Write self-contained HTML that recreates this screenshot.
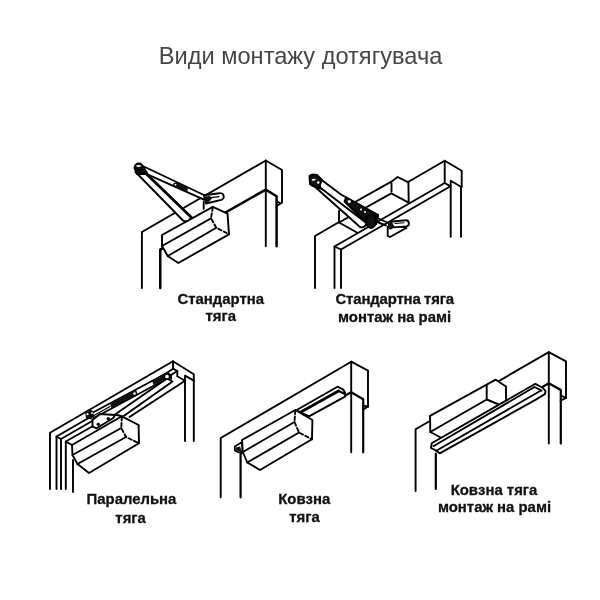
<!DOCTYPE html>
<html><head><meta charset="utf-8">
<style>
html,body{margin:0;padding:0;background:#fff;width:600px;height:600px;overflow:hidden}
svg{display:block;will-change:transform}
.t{font-family:"Liberation Sans",sans-serif}
.l{font-family:"Liberation Sans",sans-serif;font-weight:bold;font-size:14.9px;fill:#111;stroke:#111;stroke-width:0.3}
g.d path,g.d circle,g.d ellipse{stroke:#000;stroke-width:1.9;fill:none;stroke-linejoin:round;stroke-linecap:round}
g.d .w{fill:#fff}
g.d .k{fill:#111}
</style></head><body>
<svg width="600" height="600" viewBox="0 0 600 600">
<text class="t" x="300.6" y="63.8" text-anchor="middle" font-size="23.6" fill="#454545">Види монтажу дотягувача</text>

<!-- Drawing 1 -->
<g class="d" id="d1">
<path d="M141.9,288 V232 L265.8,160.5 L282,170 V202.8 L277,205.7"/>
<path d="M265.8,160.5 V246.3"/>
<path d="M276.8,201.6 L281,203.3"/>
<path d="M276.6,246.3 V196.3 L265.8,189.6 L160.25,249.6 V288" style="stroke-width:2.5"/>
<path class="w" d="M162,235 L212.8,206.8 L227.5,213.6 L229,234.3 L178.3,263 L167.7,256 L162,246 Z"/>
<path d="M162,246 L211,218.3 M167.7,256 L216.3,227.7"/>
<path d="M212.8,207.5 L211,218.3 L216.3,227.7 L229,234.3" stroke-dasharray="3.5,2.5"/>
<path class="w" d="M135.5,172 L183,220.5 Q187,223 191.5,217.5 L145.5,173 Z"/>
<path d="M145.5,173 L191.5,217.5" style="stroke-width:2.6"/>
<path class="w" d="M142.7,166 L205,195.5 L204.5,199.8 L148,174.7 Z"/>
<path class="k" d="M177,182.5 L188,187.6 L187.3,191.8 L176,186.8 Z" style="stroke:none"/>
<path class="w" d="M204,195.3 L219.5,193.3 A3.3,3.3 0 0 1 221.3,199.8 L206,203.5 Z"/>
<path class="k" d="M204.5,196.5 L210,196 L212,198.5 L208,203 L205,203.5 Z" style="stroke:none"/>
<path d="M211,197.6 L219,196.6" style="stroke-width:1.2"/>
<path d="M203.7,202 V208.7"/>
<circle class="k" cx="138.8" cy="167.5" r="4.3" style="stroke-width:1.6"/>
<ellipse class="w" cx="138.6" cy="166" rx="2.4" ry="1.1" style="stroke:none"/>
<circle class="w" cx="143.5" cy="169" r="0.7" style="stroke:none"/>
<path class="k" d="M134.5,168 Q138.5,172 143,169 L146,174 L137,174 Z"/>
<circle class="w" cx="175.5" cy="184.8" r="1.7" style="stroke-width:1.4"/>
</g>

<!-- Drawing 2 -->
<g class="d" id="d2">
<path d="M315,288 V236 L444.7,160.7 L461.7,170.7 V187"/>
<path d="M444.7,160.7 V183 L450.5,186.3"/>
<path d="M450.7,236.7 V180.7 L461,186.7 V236.7"/>
<path d="M334.5,288 V246.5 L444.7,183"/>
<path d="M334.5,246.5 L341,249.5 L450.5,186.3"/>
<path d="M341,249.5 V288"/>
<path class="w" d="M339,211 L391.3,181.7 L397.7,177 L408.4,182.3 L408.7,202.7 L391.3,193.3 L339,222.5 Z"/>
<path d="M391.5,183 V191.5"/>
<path d="M339,222.5 L357,232.5"/>
<path class="w" d="M317,176.5 L341,194.5 L378,215 L376,224 L367,223.5 L321,189.5 Z"/>
<path class="k" d="M346,197.5 L378,215 L376,224 L367,223.5 L344.5,201.5 Z"/>
<circle class="w" cx="349.3" cy="201.5" r="1.6" style="stroke:none"/>
<circle class="w" cx="361" cy="209.5" r="1" style="stroke:none"/>
<circle class="w" cx="365" cy="212" r="1" style="stroke:none"/>
<path class="w" d="M314,186 L360,227 Q364,228.5 367,223.5 L322,189 Z"/>
<ellipse class="k" cx="371" cy="221" rx="5" ry="7"/>
<path d="M375,217 L389.5,223.5 M376,221.5 L386,225.5"/>
<path class="w" d="M387.7,227 V236 L390,237 L406.4,227.9 L400,226 Z"/>
<path class="w" d="M390.5,221.7 L405.3,220.3 A3.1,3.1 0 0 1 406.4,226.4 L393.9,227.4 Z"/>
<path d="M395,223.5 L404,222.8" style="stroke-width:1.1"/>
<ellipse class="k" cx="390.5" cy="226" rx="2.6" ry="3.6" style="stroke:none"/>
<path class="k" d="M309.5,176 Q312,173.5 317,175 L322,180 L319,186.5 Q313,187 310,184 Z"/>
<path class="w" d="M311.8,179.3 Q314,178 316,179.5 Q314,181.3 311.8,180.5 Z" style="stroke:none"/>
<circle class="w" cx="318.3" cy="182.5" r="1.2" style="stroke:none"/>
</g>

<!-- Drawing 3 -->
<g class="d" id="d3">
<path d="M50,489 V432.8 L173,361.3 L193.8,374.3 V441"/>
<path d="M173,361.3 V368.7"/>
<path d="M185,441 V375.7 L193.8,380.7"/>
<path d="M56.5,489 V436.5 L166.7,373 L173,368.7 L177.3,371 L171,375 L166.7,373"/>
<path d="M177.3,371 V376.3 L185,380.7"/>
<path d="M171,375 V379"/>
<path d="M56.5,436.5 L61,439 V489"/>
<path d="M61,439 L100,416.5"/>
<path d="M65.8,489 V441.5 L72,445"/>
<path d="M65.8,441.5 L100,422"/>
<path d="M73,492 V460"/>
<path d="M129.5,417 L185,380.7"/>
<path class="w" d="M72,445 L121.8,416.3 L138.6,425 L139,443.3 L89,473 L77.5,464 L72.5,455 Z"/>
<path d="M72.5,455 L121.3,428 M77.5,464 L126,437"/>
<path d="M121.8,417 L121.3,428 L126,437 L139,443.3" stroke-dasharray="3.5,2.5"/>
<path class="w" d="M115,414.5 L167,378.5 L172.5,381.5 L123,416.5 Z"/>
<path class="w" d="M92,413 L166,373.5 L168,378 L94,418 Z"/>
<path class="k" d="M110,403.5 L136,389.5 L137.5,394 L111.5,408 Z" style="stroke:none"/>
<path d="M94,415.5 L110,406.5" style="stroke-width:1.2"/>
<path class="k" d="M152,380.5 L166,373.5 L167.5,378 L153.5,385 Z" style="stroke:none"/>
<circle class="w" cx="134.5" cy="393.5" r="1.3" style="stroke:none"/>
<circle class="w" cx="167" cy="376.5" r="2.6" style="stroke-width:1.5"/>
<path class="w" d="M92.5,420 L100,414 L115,415 L113.3,418 L96.7,428.3 L92.5,426.7 Z"/>
<circle class="k" cx="108.3" cy="418.7" r="1.8" style="stroke:none"/>
<circle class="k" cx="98.3" cy="424.2" r="1.8" style="stroke:none"/>
<path class="k" d="M85,412 Q86,409 90,409.5 L93,411 L92.5,419 Q88.5,420 86,418 Z" style="stroke:none"/>
<circle class="w" cx="87.5" cy="414.2" r="1.1" style="stroke:none"/>
<circle class="w" cx="92" cy="413" r="0.9" style="stroke:none"/>
</g>

<!-- Drawing 4 -->
<g class="d" id="d4">
<path d="M220.7,497.3 V438 L351.2,361.7 L368,370.6 V406.7 L363,409.3"/>
<path d="M351.2,361.7 V452.3"/>
<path d="M362.8,405.3 L368,406.7"/>
<path d="M240.6,497.3 V453.7 L351.2,392.3 L363.2,399.3 V452.3" style="stroke-width:2.2"/>
<path class="w" d="M296.3,410.3 L337.5,386.7 L343.3,389.6 L345,392.5 L345,396.7 L309,416.3 Z"/>
<path d="M300,412.5 L338.5,391" style="stroke-width:2.8"/>
<path d="M338.5,391 L344,393.5" style="stroke-width:2.4"/>
<path class="w" d="M234.8,446.5 L242,442 L242.5,451 L239,452.5 L234.8,450.5 Z" style="stroke-width:1.6"/>
<path class="k" d="M235.5,447.5 L240,446.5 L241.5,450.5 L239,451.5 L235.5,450 Z" style="stroke:none"/>
<path class="w" d="M242,440 L295.3,410 L312.4,420 L312,439.3 L260,470 L247.3,462.5 L242.8,452 Z"/>
<path d="M242.8,452 L294.5,422 M247.3,462.5 L299,432.5"/>
<path d="M295.3,410.5 L294.5,422 L299,432.5 L312,439.3" stroke-dasharray="3.5,2.5"/>
</g>

<!-- Drawing 5 -->
<g class="d" id="d5">
<path d="M415.6,491 V429.2 L548.8,352.1 L566,361.3 V398 L560.7,400.7"/>
<path d="M548.8,352.1 V443.5"/>
<path d="M560.7,395.3 L566,398"/>
<path d="M435.8,489 V453.5 M436.6,449 L548.8,383.3 L560.8,390 V443.5" style="stroke-width:2.2"/>
<path class="w" d="M430,415.8 L495.7,379.7 L506,386.5 L506,401 L441.7,438 L430.3,432 Z"/>
<path d="M486.7,385 V399.5 L430.3,432 M486.7,399.5 L500,405"/>
<path class="w" d="M431.7,443.3 L535.4,383.8 L543,388 L545.5,391 L545,394 L536.3,399.4 L439.7,453.3 L436.3,450.7 L431,448 Z"/>
<path d="M433.7,446 L534.5,387 L541.5,390.5"/>
<path d="M436.3,450.7 L541,390.5"/>
</g>

<!-- Labels -->
<text class="l" x="220.7" y="303.8" text-anchor="middle">Стандартна</text>
<text class="l" x="220.7" y="321.3" text-anchor="middle">тяга</text>
<text class="l" x="394.7" y="303.9" text-anchor="middle" word-spacing="-0.5" letter-spacing="-0.15">Стандартна тяга</text>
<text class="l" x="394.6" y="321.5" text-anchor="middle">монтаж на рамі</text>
<text class="l" x="131.5" y="503.6" text-anchor="middle">Паралельна</text>
<text class="l" x="130.6" y="522.7" text-anchor="middle">тяга</text>
<text class="l" x="304.3" y="503.7" text-anchor="middle">Ковзна</text>
<text class="l" x="304.5" y="521.7" text-anchor="middle">тяга</text>
<text class="l" x="494" y="494.5" text-anchor="middle">Ковзна тяга</text>
<text class="l" x="494.5" y="512.1" text-anchor="middle">монтаж на рамі</text>
</svg>
</body></html>
